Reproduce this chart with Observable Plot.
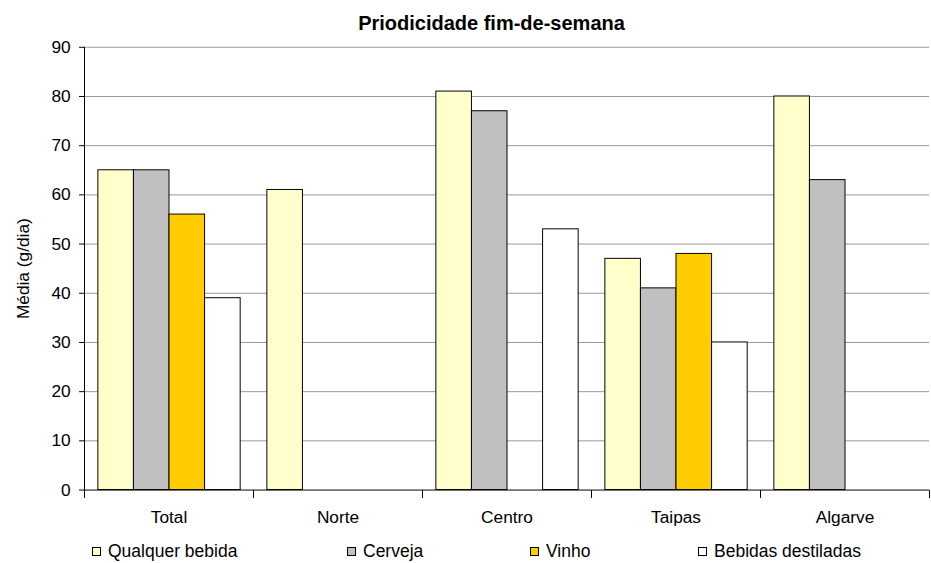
<!DOCTYPE html>
<html>
<head>
<meta charset="utf-8">
<script src="https://cdn.jsdelivr.net/npm/d3@7"></script>
<script src="https://cdn.jsdelivr.net/npm/@observablehq/plot@0.6"></script>
<style>
  html, body { margin: 0; padding: 0; background: #fff; overflow: hidden; }
  body { width: 931px; height: 563px; font-family: "Liberation Sans", Arial, sans-serif; color: #000; }
  #title { height: 30px; box-sizing: border-box; padding-top: 12px; padding-left: 52px; width: 931px;
           text-align: center; font-weight: bold; font-size: 20px; line-height: 23px; white-space: nowrap; }
  #chart { height: 510px; width: 931px; overflow: hidden; }
  #legend { position: relative; height: 23px; width: 931px; font-size: 17.5px; }
  .item { position: absolute; top: 0; height: 22px; display: flex; align-items: center; white-space: nowrap; }
  .sw { width: 7px; height: 7px; border: 1px solid #000; margin-right: 7px; }
</style>
</head>
<body>
<div id="title">Priodicidade fim-de-semana</div>
<div id="chart"></div>
<div id="legend"></div>
<script>
const categories = ["Total", "Norte", "Centro", "Taipas", "Algarve"];
const series = ["Qualquer bebida", "Cerveja", "Vinho", "Bebidas destiladas"];
const qualquerBebida = [65, 61, 81, 47, 80];
const cerveja = [65, null, 77, 41, 63];
const vinho = [56, null, null, 48, null];
const bebidasDestiladas = [39, null, 53, 30, null];
const colors = ["#FFFFCC", "#C0C0C0", "#FFCC00", "#FFFFFF"];
const yTicks = [0, 10, 20, 30, 40, 50, 60, 70, 80, 90];
const yLabel = "Média (g/dia)";
const legendLefts = [92, 347, 530, 698];

const seriesValues = [qualquerBebida, cerveja, vinho, bebidasDestiladas];
const data = [];
categories.forEach((c, i) => {
  seriesValues.forEach((arr, j) => {
    if (arr[i] != null) data.push({category: c, series: series[j], value: arr[i]});
  });
});

function axisLines(index, scales, values, dimensions) {
  const fx = scales.fx, y = scales.y;
  const bw = typeof fx.bandwidth === "function" ? fx.bandwidth() : scales.scales.fx.bandwidth;
  const xs = categories.map(c => fx(c));
  xs.push(fx(categories[categories.length - 1]) + bw);
  const y0 = Math.round(y(0)) + 0.5, yTop = y(yTicks[yTicks.length - 1]);
  const g = d3.create("svg:g").attr("stroke", "#000").attr("stroke-width", 1).attr("fill", "none");
  const xl = Math.round(xs[0]) + 0.5;
  g.append("line").attr("x1", xl).attr("x2", xl).attr("y1", yTop).attr("y2", y0);
  g.append("line").attr("x1", xl).attr("x2", xs[xs.length - 1]).attr("y1", y0).attr("y2", y0);
  xs.forEach(x => {
    const xx = Math.round(x) + 0.5;
    g.append("line").attr("x1", xx).attr("x2", xx).attr("y1", y0).attr("y2", y0 + 8);
  });
  return g.node();
}

const chart = Plot.plot({
  width: 942,
  height: 510,
  marginLeft: 83,
  marginRight: 0,
  marginTop: 17,
  marginBottom: 45,
  style: {fontFamily: "'Liberation Sans', Arial, sans-serif", fontSize: "17.5px", color: "#000", background: "#fff", overflow: "visible"},
  fx: {domain: categories, padding: 0, label: null},
  x: {domain: series, paddingInner: 0, paddingOuter: 0.37, axis: null},
  y: {domain: [0, 90], label: null},
  color: {domain: series, range: colors},
  marks: [
    Plot.gridY(yTicks.filter(d => d > 0), {stroke: "#999999", strokeOpacity: 1, strokeWidth: 1}),
    Plot.barY(data, {fx: "category", x: "series", y: "value", fill: "series", stroke: "#000", strokeWidth: 1}),
    Plot.axisY(yTicks, {tickSize: 5, tickPadding: 9, label: yLabel, labelAnchor: "center", labelArrow: "none", labelOffset: 69, facetAnchor: "left", stroke: "#000"}),
    Plot.axisFx({tickSize: 0, tickPadding: 21, label: null, anchor: "bottom"}),
    Plot.frame({stroke: "none", facet: "super", render: axisLines})
  ]
});
document.getElementById("chart").appendChild(chart);

const legend = document.getElementById("legend");
series.forEach((s, i) => {
  const item = document.createElement("div");
  item.className = "item";
  item.style.left = legendLefts[i] + "px";
  const sw = document.createElement("span");
  sw.className = "sw";
  sw.style.background = colors[i];
  const t = document.createElement("span");
  t.textContent = s;
  item.appendChild(sw);
  item.appendChild(t);
  legend.appendChild(item);
});
</script>
</body>
</html>
